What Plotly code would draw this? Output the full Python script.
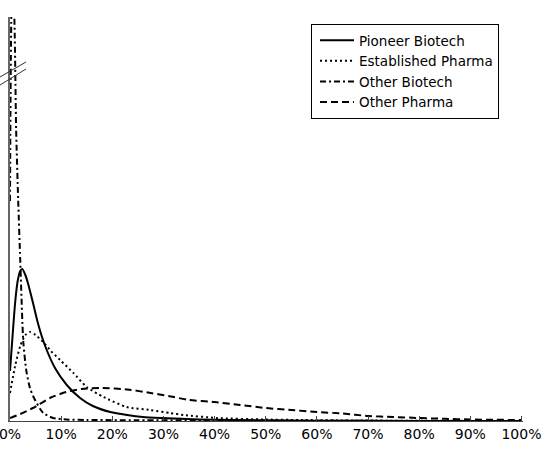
import plotly.graph_objects as go

# ---- data (x in % of range, y in relative density units) ----
pioneer_x = [0, 0.5, 1.0, 1.5, 2.0, 2.4, 3.0, 3.5, 4.5, 5.5, 6.8, 8.8, 11.1, 13.7, 16.2, 19.6, 22.9, 26, 29.5, 37, 49, 60, 80, 100]
pioneer_y = [50, 85, 118, 140, 150, 152, 146, 138, 118, 97, 76, 53, 36, 23, 15, 9, 6, 4, 3, 1.5, 0.7, 0.3, 0.1, 0]

established_x = [0, 1, 2, 3, 3.9, 5, 6.5, 8, 9.8, 12.4, 15, 18.3, 22.8, 27.4, 31.3, 34, 40.5, 50, 57, 67, 100]
established_y = [28, 55, 75, 86, 89, 86, 79, 70, 61, 48, 34, 24, 14, 11, 8, 6, 3, 1.5, 1, 0.5, 0]

other_biotech_x = [0, 0.4, 0.8, 1.2, 1.6, 2.0, 2.6, 3.2, 3.9, 4.6, 5.9, 6.5, 8.4, 11, 15, 25, 40, 60, 100]
other_biotech_y = [220, 430, 410, 291, 221, 161, 79, 50, 33, 24, 12, 8, 3, 1.5, 1, 0.8, 0.5, 0.2, 0]

other_pharma_x = [0, 2, 4.5, 7.8, 11, 14, 18, 23, 27.5, 31, 35, 40, 45, 50, 55, 60, 65, 70, 75, 80, 85, 90, 95, 100]
other_pharma_y = [3, 7, 13, 23, 29, 32, 33, 31.5, 28, 25, 21, 19, 16, 13, 11, 9, 7.5, 5, 4, 3, 2.2, 1.5, 1.2, 1]

tick_vals = [i / 10 for i in range(11)]
tick_text = [f"{i * 10}%" for i in range(11)]

FONT = "DejaVu Sans"

fig = go.Figure()

series = [
    ("Pioneer Biotech", pioneer_x, pioneer_y, "solid"),
    ("Established Pharma", established_x, established_y, "2px,3px"),
    ("Other Biotech", other_biotech_x, other_biotech_y, "6px,3px,2px,3px"),
    ("Other Pharma", other_pharma_x, other_pharma_y, "7px,4px"),
]
for name, xs, ys, dash in series:
    fig.add_trace(go.Scatter(
        x=[v / 100 for v in xs], y=ys, name=name, mode="lines",
        line=dict(color="black", width=2, dash=dash, shape="spline", smoothing=0.6),
        hoverinfo="skip",
    ))

# plot-area geometry (pixels) for decorative axis-break marks
L, T, W, H = 10, 17, 513, 404
def px(xp):
    return (xp - L) / W
def py(yp):
    return (T + H - yp) / H

shapes = []
for (x0, y0, x1, y1) in [(0, 77, 26, 62), (0, 85, 26, 69)]:
    shapes.append(dict(type="line", xref="paper", yref="paper",
                       x0=px(x0), y0=py(y0), x1=px(x1), y1=py(y1),
                       line=dict(color="#333", width=1)))

fig.update_layout(
    width=546, height=460,
    margin=dict(l=L, r=546 - L - W, t=T, b=460 - T - H, pad=0, autoexpand=False),
    paper_bgcolor="white", plot_bgcolor="white",
    font=dict(family=FONT, size=14, color="black"),
    showlegend=True,
    legend=dict(x=px(311), y=py(24), xanchor="left", yanchor="top",
                bordercolor="black", borderwidth=1, bgcolor="white",
                itemwidth=34, indentation=3, entrywidth=192, entrywidthmode="pixels",
                font=dict(family=FONT, size=13.5, color="black")),
    shapes=shapes,
    xaxis=dict(range=[0, 1.003], tickvals=tick_vals, ticktext=tick_text,
               showgrid=False, zeroline=False, showline=True, linecolor="#444",
               linewidth=1, ticks="inside", ticklen=5, tickcolor="#444",
               ticklabeloverflow="allow", automargin=False,
               tickfont=dict(family=FONT, size=14, color="black")),
    yaxis=dict(range=[0, 404], showticklabels=False, showgrid=False,
               zeroline=False, showline=True, linecolor="#666", linewidth=1.5,
               ticks="", automargin=False),
)

fig.write_html("out.html")
